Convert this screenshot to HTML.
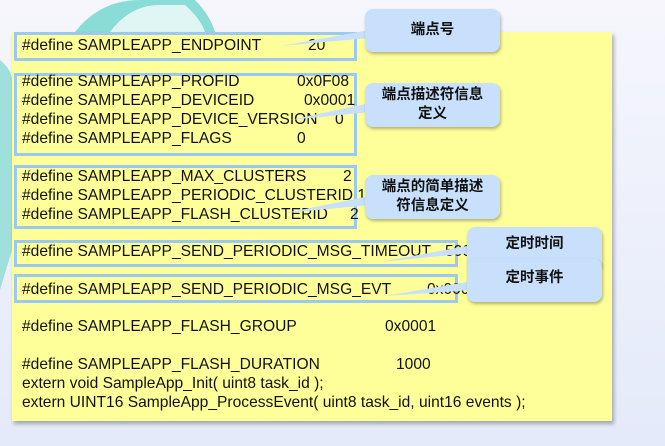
<!DOCTYPE html><html><head><meta charset="utf-8"><style>
body{margin:0;width:665px;height:446px;overflow:hidden;background:linear-gradient(#f6f6fc,#e4eafa);position:relative;font-family:"Liberation Sans",Arial,sans-serif}
.y{position:absolute;left:12px;top:32px;width:600px;height:389px;background:#ffff99;box-shadow:2px 3px 4px rgba(0,0,0,.3)}
.t{position:absolute;left:22px;font-size:15.6px;color:#111;white-space:nowrap;line-height:18px}
.b{position:absolute;border:3px solid #9cc8f4;box-sizing:border-box}
.c{position:absolute;background:#c8e0fc;border-radius:8px;box-shadow:1px 2px 3px rgba(0,0,0,.3);font-family:"Liberation Sans","Noto Sans CJK SC",sans-serif;font-weight:bold;font-size:14.5px;text-align:center;line-height:19px;color:#111;display:flex;align-items:center;justify-content:center}
</style></head><body>
<svg style="position:absolute;left:0;top:0" width="665" height="446"><path d="M75,32 Q100,0 140,0 L195,0 Q210,15 215,32 Z" fill="#8adcd6"/><path d="M110,32 Q130,5 160,5 L185,5 Q200,18 205,32 Z" fill="#e0f6f4"/><path d="M0,60 Q12,70 12,80 L12,250 Q6,270 0,290 Z" fill="#9fe0dc"/></svg>
<div class="y"></div>
<div class="b" style="left:14px;top:32px;width:343px;height:29px"></div>
<div class="b" style="left:14px;top:73px;width:343px;height:83px"></div>
<div class="b" style="left:14px;top:165px;width:343px;height:64px"></div>
<div class="b" style="left:14px;top:240px;width:444px;height:27px"></div>
<div class="b" style="left:14px;top:274px;width:444px;height:29px"></div>
<div class="t" style="top:37px">#define SAMPLEAPP_ENDPOINT<span style="position:absolute;left:286px">20</span></div>
<div class="t" style="top:73px">#define SAMPLEAPP_PROFID<span style="position:absolute;left:275px">0x0F08</span></div>
<div class="t" style="top:92px">#define SAMPLEAPP_DEVICEID<span style="position:absolute;left:282px">0x0001</span></div>
<div class="t" style="top:111px">#define SAMPLEAPP_DEVICE_VERSION<span style="position:absolute;left:313px">0</span></div>
<div class="t" style="top:130px">#define SAMPLEAPP_FLAGS<span style="position:absolute;left:275px">0</span></div>
<div class="t" style="top:168px">#define SAMPLEAPP_MAX_CLUSTERS<span style="position:absolute;left:321px">2</span></div>
<div class="t" style="top:187px">#define SAMPLEAPP_PERIODIC_CLUSTERID 1</div>
<div class="t" style="top:206px">#define SAMPLEAPP_FLASH_CLUSTERID<span style="position:absolute;left:328px">2</span></div>
<div class="t" style="top:243px">#define SAMPLEAPP_SEND_PERIODIC_MSG_TIMEOUT<span style="position:absolute;left:423px">5000</span></div>
<div class="t" style="top:281px">#define SAMPLEAPP_SEND_PERIODIC_MSG_EVT<span style="position:absolute;left:405px">0x0001</span></div>
<div class="t" style="top:318px">#define SAMPLEAPP_FLASH_GROUP<span style="position:absolute;left:363px">0x0001</span></div>
<div class="t" style="top:356px">#define SAMPLEAPP_FLASH_DURATION<span style="position:absolute;left:374px">1000</span></div>
<div class="t" style="top:375px">extern void SampleApp_Init( uint8 task_id );</div>
<div class="t" style="top:394px">extern UINT16 SampleApp_ProcessEvent( uint8 task_id, uint16 events );</div>
<svg style="position:absolute;left:0;top:0" width="665" height="446">
<polygon points="280,46 370,38 370,30" fill="#c8e0fc"/>
<polygon points="290,120 370,112 370,103" fill="#c8e0fc"/>
<polygon points="285,213 370,205 370,196" fill="#c8e0fc"/>
<polygon points="380,262 472,253 472,245" fill="#c8e0fc"/>
<polygon points="385,296 472,290 472,281" fill="#c8e0fc"/>
</svg>
<div class="c" style="left:365px;top:9px;width:135px;height:43px">端点号</div>
<div class="c" style="left:365px;top:83px;width:135px;height:44px">端点描述符信息<br>定义</div>
<div class="c" style="left:365px;top:175px;width:135px;height:44px">端点的简单描述<br>符信息定义</div>
<div class="c" style="left:467px;top:227px;width:135px;height:43px;align-items:flex-start;padding-top:8px;box-sizing:border-box">定时时间</div>
<div class="c" style="left:467px;top:259px;width:135px;height:43px;align-items:flex-start;padding-top:10px;box-sizing:border-box">定时事件</div>
</body></html>
